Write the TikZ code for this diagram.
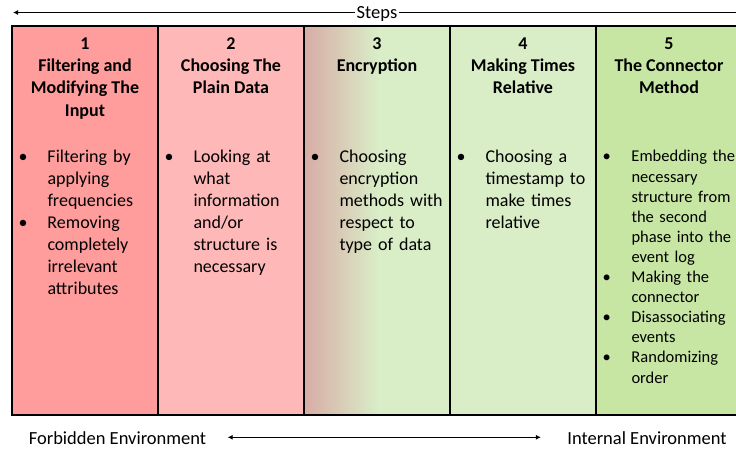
\documentclass[tikz,border=0pt]{standalone}
\usepackage{fontspec}
\setmainfont{Carlito}
\usetikzlibrary{positioning,arrows.meta}

\definecolor{schrittEins}{RGB}{255,156,156}
\definecolor{schrittZwei}{RGB}{255,184,184}
\definecolor{schrittDreiA}{RGB}{216,172,166}
\definecolor{schrittDreiB}{RGB}{207,198,160}
\definecolor{schrittVier}{RGB}{217,237,199}
\definecolor{schrittFuenf}{RGB}{199,230,164}

\newcommand\punkt[1]{\par\noindent\hangindent=29pt\hangafter=1\rightskip=0pt plus 1fil\hyphenpenalty=10000\exhyphenpenalty=10000\makebox[29pt][l]{\textbullet}#1\par}

\tikzset{
	titel/.style = {anchor = north, align = center, inner sep = 0pt, font = \fontsize{18}{22.3}\selectfont\bfseries},
	liste/.style = {anchor = north west, align = left, inner sep = 0pt, text width = 135pt, font = \fontsize{18}{21.9}\selectfont},
	umgebung/.style = {anchor = base, inner sep = 0pt, font = \fontsize{18.5}{22}\selectfont},
}

\begin{document}
\begin{tikzpicture}[yscale = -1, x = 1pt, y = 1pt, line width = 1pt]
	\useasboundingbox (0, 0) rectangle (736, 451);
	\clip (0, 0) rectangle (736, 451);

	% Spalten:
	\fill [schrittEins] (12, 26) rectangle (158, 415);
	\fill [schrittZwei] (158, 26) rectangle (304, 415);
	\shade [left color = schrittDreiA, middle color = schrittDreiB, right color = schrittVier] (304, 26) rectangle (378, 415);
	\fill [schrittVier] (378, 26) rectangle (596, 415);
	\fill [schrittFuenf] (596, 26) rectangle (745, 415);

	\draw [line width = 1.2pt] (12, 26) rectangle (745, 415);
	\foreach \x in {158, 304, 450, 596} {
		\draw [line width = 1.2pt] (\x, 26) -- (\x, 415);
	}

	% Titel:
	\node [titel] (titel1) at (85, 37) {1\\Filtering and\\Modifying The\\Input};
	\node [titel] (titel2) at (231, 37) {2\\Choosing The\\Plain Data};
	\node [titel] (titel3) at (377, 37) {3\\Encryption};
	\node [titel] (titel4) at (523, 37) {4\\Making Times\\Relative};
	\node [titel] (titel5) at (669, 37) {5\\The Connector\\Method};

	% Punkte:
	\node [liste] (liste1) at (18, 140.2) {\punkt{Filtering by applying frequencies}\punkt{Removing completely irrelevant attributes}};
	\node [liste] (liste2) at (164, 140.2) {\punkt{Looking at what information and/or structure is necessary}};
	\node [liste] (liste3) at (310, 140.2) {\punkt{Choosing encryption methods with respect to type of data}};
	\node [liste] (liste4) at (456, 140.2) {\punkt{Choosing a timestamp to make times relative}};
	\node [liste, text width = 137pt, font = \fontsize{16.5}{20.1}\selectfont] (liste5) at (602, 141.3) {\punkt{Embedding the necessary structure from the second phase into the event log}\punkt{Making the connector}\punkt{Disassociating events}\punkt{Randomizing order}};

	% Schritte:
	\node [umgebung, inner xsep = 1.5pt] (schritte) at (377, 18.5) {Steps};
	\coordinate (schritteL) at (13, 12.5);
	\coordinate (schritteR) at (736, 12.5);
	\draw [line width = 0.9pt, {Latex[length = 5pt, width = 5pt]}-] (schritteL) -- (schritteL -| schritte.west);
	\draw [line width = 0.9pt] (schritteR -| schritte.east) -- (schritteR);

	% Umgebungen:
	\node [umgebung] (verboten) at (117.5, 444.3) {Forbidden Environment};
	\node [umgebung] (intern) at (647, 444.3) {Internal Environment};
	\draw [line width = 0.9pt, {Latex[length = 5pt, width = 5pt]}-{Latex[length = 5pt, width = 5pt]}] ([xshift = 21pt, yshift = -7pt]verboten.base east) -- ([xshift = -26pt, yshift = -7pt]intern.base west);
\end{tikzpicture}
\end{document}
